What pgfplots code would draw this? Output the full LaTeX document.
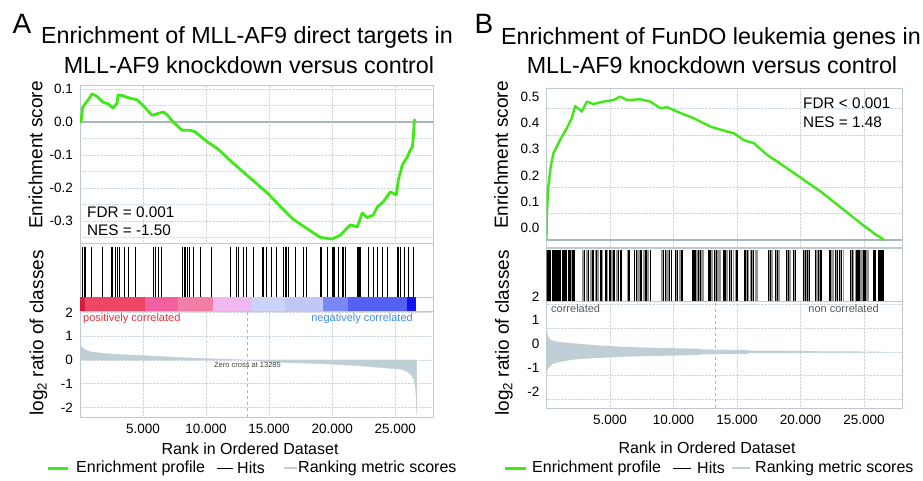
\documentclass[border=0pt]{standalone}
\usepackage{fontspec}
\setmainfont{Liberation Sans}
\usepackage{pgfplots}
\pgfplotsset{compat=1.18}

\definecolor{esgreen}{RGB}{64,232,24}
\definecolor{framec}{RGB}{188,202,210}
\definecolor{gridc}{RGB}{205,214,220}
\definecolor{metricc}{RGB}{192,206,214}
\definecolor{zeroc}{RGB}{168,182,190}
\definecolor{poscol}{RGB}{232,48,56}
\definecolor{negcol}{RGB}{64,140,232}
\definecolor{hitgray}{RGB}{150,150,150}
% colour bar of panel A
\definecolor{cb1}{RGB}{212,30,64}
\definecolor{cb2}{RGB}{236,70,100}
\definecolor{cb3}{RGB}{242,96,160}
\definecolor{cb4}{RGB}{242,126,168}
\definecolor{cb5}{RGB}{240,184,240}
\definecolor{cb6}{RGB}{204,212,250}
\definecolor{cb7}{RGB}{192,200,248}
\definecolor{cb8}{RGB}{120,136,248}
\definecolor{cb9}{RGB}{84,96,240}
\definecolor{cb10}{RGB}{20,20,240}

\newcommand{\fs}[1]{\fontsize{#1}{#1}\selectfont}

\pgfplotsset{
  gsea/.style={
    scale only axis, anchor=south west,
    xmin=0, xmax=28000,
    scaled x ticks=false, scaled y ticks=false,
    axis line style={framec, line width=1pt},
    major tick length=0pt, minor tick length=0pt,
    grid style={gridc, densely dotted, line width=0.6pt},
    minor grid style={gridc, densely dotted, line width=0.6pt},
    tick label style={font=\fs{13.5}},
    yticklabel style={xshift=-3.5pt},
    xticklabel style={yshift=-4pt},
  },
  bare/.style={gsea, ticks=none},
}

\begin{document}
\begin{tikzpicture}[x=1pt,y=1pt]
\path[use as bounding box] (0,0) rectangle (923,480);

% ================= PANEL A =================
% enrichment score
\begin{axis}[gsea, at={(80pt,237pt)}, width=353pt, height=157pt,
  ymin=-0.367, ymax=0.109,
  xtick={5000,10000,15000,20000,25000}, xticklabels={,,,,},
  ytick={-0.3,-0.2,-0.1,0,0.1}, yticklabels={-0.3,-0.2,-0.1,0.0,0.1},
  minor ytick={-0.35,-0.25,-0.15,-0.05,0.05},
  xmajorgrids, ymajorgrids, yminorgrids]
\draw[zeroc, line width=1.3pt] (axis cs:0,0) -- (axis cs:28000,0);
\addplot[esgreen, line width=2.8pt, mark=none, line join=round] coordinates {
 (0,0) (79,0.0) (214,0.045) (318,0.05) (794,0.075) (929,0.085) (1326,0.078)
 (1826,0.06) (2223,0.055) (2620,0.042) (2938,0.057) (3017,0.082) (3335,0.08)
 (3970,0.072) (4526,0.067) (5002,0.05) (5717,0.02) (6114,0.025) (6591,0.03)
 (6908,0.022) (7384,0.0) (8099,-0.025) (8734,-0.025) (9131,-0.03) (10084,-0.06)
 (10878,-0.08) (12148,-0.125) (13498,-0.17) (14848,-0.215) (16118,-0.265)
 (16912,-0.295) (18262,-0.33) (19056,-0.35) (20009,-0.355) (20644,-0.343)
 (21438,-0.312) (21994,-0.318) (22391,-0.276) (22788,-0.29) (23264,-0.282)
 (23582,-0.258) (24058,-0.242) (24614,-0.212) (25090,-0.221) (25249,-0.176)
 (25567,-0.13) (25964,-0.106) (26202,-0.085) (26361,-0.076) (26440,-0.048)
 (26520,0.006) (26600,0.0)};
\end{axis}

% hits
\begin{axis}[bare, at={(80pt,183pt)}, width=353pt, height=54pt, ymin=0, ymax=1.07]
\addplot[ycomb, black, line width=0.9pt, mark=none] coordinates {
 (160,1) (318,1) (420,1) (900,1) (1747,1) (2460,1) (2580,1) (2779,1) (2938,1)
 (3100,1) (3494,1) (3812,1) (4390,1) (5800,1) (5960,1) (6220,1) (6480,1)
 (8150,1) (8290,1) (8390,1) (8540,1) (8680,1) (9000,1) (9520,1) (10450,1)
 (11910,1) (12440,1) (12570,1) (12960,1) (13236,1) (13760,1) (14440,1)
 (14520,1) (14824,1) (15165,1) (15618,1) (16141,1) (16260,1) (16400,1)
 (16538,1) (17071,1) (17730,1) (18000,1) (19056,1) (19120,1) (19191,1)
 (19588,1) (20032,1) (20110,1) (20191,1) (20509,1) (20826,1) (20930,1)
 (21041,1) (21970,1) (22050,1) (22130,1) (22232,1) (22891,1) (23288,1)
 (23558,1) (23955,1) (24352,1) (25146,1) (25250,1) (25408,1) (25749,1)
 (26066,1) (26463,1)};
\end{axis}

% colour bar
\begin{axis}[bare, at={(80pt,169pt)}, width=353pt, height=14pt, ymin=0, ymax=1]
\addplot[fill=cb1, draw=none] coordinates {(0,1) (397,1)} \closedcycle;
\addplot[fill=cb2, draw=none] coordinates {(397,1) (5161,1)} \closedcycle;
\addplot[fill=cb3, draw=none] coordinates {(5161,1) (7781,1)} \closedcycle;
\addplot[fill=cb4, draw=none] coordinates {(7781,1) (10560,1)} \closedcycle;
\addplot[fill=cb5, draw=none] coordinates {(10560,1) (13657,1)} \closedcycle;
\addplot[fill=cb6, draw=none] coordinates {(13657,1) (16277,1)} \closedcycle;
\addplot[fill=cb7, draw=none] coordinates {(16277,1) (19294,1)} \closedcycle;
\addplot[fill=cb8, draw=none] coordinates {(19294,1) (21279,1)} \closedcycle;
\addplot[fill=cb9, draw=none] coordinates {(21279,1) (25964,1)} \closedcycle;
\addplot[fill=cb10, draw=none] coordinates {(25964,1) (26678,1)} \closedcycle;
\end{axis}

% ranking metric
\begin{axis}[gsea, at={(80pt,63pt)}, width=353pt, height=106pt,
  ymin=-2.41, ymax=2.07,
  xtick={5000,10000,15000,20000,25000},
  xticklabels={5.000,10.000,15.000,20.000,25.000},
  ytick={-2,-1,0,1,2}, yticklabels={-2,-1,0,1,2},
  xmajorgrids, ymajorgrids]
\draw[zeroc, dashed, line width=0.7pt] (axis cs:13285,-2.41) -- (axis cs:13285,2.07);
\addplot[fill=metricc, draw=metricc, mark=none] coordinates {
 (0,0.75) (60,0.6) (200,0.5) (400,0.44) (640,0.38) (1000,0.33) (2000,0.27)
 (3500,0.22) (5160,0.18) (7000,0.13) (8500,0.09) (10400,0.05) (12000,0.02)
 (13285,0) (14500,-0.06) (15700,-0.1) (17000,-0.12) (18340,-0.14)
 (20000,-0.18) (21500,-0.22) (22800,-0.27) (23660,-0.31) (24600,-0.35)
 (25400,-0.38) (26000,-0.5) (26300,-0.65) (26500,-0.85) (26620,-1.2)
 (26680,-1.7) (26700,-2.3)} \closedcycle;
\node[font=\fs{7.5}, text=black!75] at (axis cs:13285,-0.2) {Zero cross at 13285};
\end{axis}

\node[font=\fs{11}, text=poscol, anchor=west, inner sep=0] at (83,161) {positively correlated};
\node[font=\fs{11}, text=negcol, anchor=east, inner sep=0] at (413,161) {negatively correlated};
\node[font=\fs{15.3}, anchor=west, inner sep=0] at (87,268) {FDR = 0.001};
\node[font=\fs{15.3}, anchor=west, inner sep=0] at (87,250) {NES = -1.50};

\node[font=\fs{28}, inner sep=0] at (22,456) {A};
\node[font=\fs{23.3}, inner sep=0] at (247,443) {Enrichment of MLL-AF9 direct targets in};
\node[font=\fs{23.3}, inner sep=0] at (249,415) {MLL-AF9 knockdown versus control};
\node[font=\fs{19}, rotate=90, inner sep=0] at (35.5,325) {Enrichment score};
\node[font=\fs{19}, rotate=90, inner sep=0] at (38.5,147) {log\textsubscript{2} ratio of classes};
\node[font=\fs{16}, inner sep=0] at (250,31) {Rank in Ordered Dataset};

% ================= PANEL B =================
\begin{axis}[gsea, at={(546.5pt,232pt)}, width=355.5pt, height=159pt,
  ymin=-0.03, ymax=0.574,
  xtick={5000,10000,15000,20000,25000}, xticklabels={,,,,},
  ytick={0,0.1,0.2,0.3,0.4,0.5}, yticklabels={0.0,0.1,0.2,0.3,0.4,0.5},
  yticklabel style={yshift=12pt},
  xmajorgrids, ymajorgrids]
\draw[zeroc, line width=1.3pt] (axis cs:0,0) -- (axis cs:28000,0);
\addplot[esgreen, line width=2.4pt, mark=none, line join=round] coordinates {
 (0,0) (16,0.089) (142,0.203) (332,0.279) (537,0.329) (1067,0.380)
 (1596,0.425) (1991,0.463) (2252,0.509) (2512,0.500) (2781,0.488)
 (3176,0.526) (3697,0.517) (4487,0.526) (5277,0.532) (5807,0.545)
 (6336,0.532) (7387,0.535) (8177,0.526) (8967,0.501) (9496,0.505)
 (10286,0.488) (11597,0.463) (12917,0.431) (14236,0.412) (14757,0.406)
 (15547,0.380) (16337,0.368) (17396,0.323) (18976,0.272) (20288,0.228)
 (21607,0.184) (23447,0.114) (24767,0.063) (25817,0.025) (26608,0)};
\end{axis}

\begin{axis}[bare, at={(546.5pt,179pt)}, width=355.5pt, height=53pt, ymin=0, ymax=1.04]
\addplot[ycomb, hitgray, line width=1.1pt, mark=none] coordinates {
 (1975,1) (2805,1) (3121,1) (3437,1) (3832,1) (4108,1) (4820,1) (5151,1)
 (5491,1) (6360,1) (7229,1) (7624,1) (8019,1) (9085,1) (9520,1) (10468,1)
 (11850,1) (12245,1) (12364,1) (13035,1) (13549,1) (13667,1) (14220,1)
 (14734,1) (14852,1) (15919,1) (16037,1) (16472,1) (16630,1) (17815,1)
 (18368,1) (19237,1) (20422,1) (21330,1) (22476,1) (22634,1) (23424,1)
 (24214,1) (24332,1) (24727,1) (24846,1) (25241,1) (25359,1)
 (2900,1) (3200,1) (3520,1) (3880,1) (4050,1) (4420,1) (4760,1) (5000,1)
 (5200,1) (5560,1) (6420,1) (7150,1) (7300,1) (7700,1) (7950,1) (9160,1)
 (9440,1) (9600,1) (10250,1) (10550,1) (10700,1) (11550,1) (11680,1)
 (12050,1) (12830,1) (12950,1) (13300,1) (13470,1) (14040,1) (14160,1)
 (14480,1) (15000,1) (15620,1) (15740,1) (16100,1) (16210,1) (16550,1)
 (17560,1) (17700,1) (18130,1) (18290,1) (18980,1) (19120,1) (19530,1)
 (20320,1) (20500,1) (20660,1) (21270,1) (21390,1) (21510,1) (22320,1)
 (22550,1) (22850,1) (23180,1) (24040,1) (24150,1) (24530,1) (24660,1)
 (25060,1) (25180,1) (25810,1) (26250,1) (26370,1) (26470,1)};
\addplot[ycomb, black, line width=1.1pt, mark=none] coordinates {
 (0,1) (79,1) (158,1) (237,1) (316,1) (514,1) (593,1) (672,1) (751,1)
 (830,1) (909,1) (988,1) (1067,1) (1225,1) (1304,1) (1383,1) (1462,1)
 (1541,1) (1699,1) (1778,1) (1857,1) (2054,1) (2133,1) (2212,1) (3002,1)
 (3279,1) (3595,1) (3713,1) (3966,1) (4227,1) (4306,1) (4622,1) (4701,1)
 (4938,1) (5056,1) (5254,1) (5372,1) (5649,1) (5807,1) (5925,1) (6478,1)
 (6557,1) (6952,1) (7071,1) (7387,1) (7505,1) (7782,1) (7900,1) (8177,1)
 (9243,1) (9362,1) (9717,1) (9836,1) (10191,1) (10310,1) (10626,1)
 (10744,1) (11495,1) (11613,1) (11732,1) (11969,1) (12127,1) (12782,1)
 (12877,1) (13233,1) (13391,1) (13983,1) (14102,1) (14418,1) (14536,1)
 (14931,1) (15050,1) (15563,1) (15682,1) (15800,1) (16156,1) (16274,1)
 (17499,1) (17617,1) (18052,1) (18210,1) (18921,1) (19040,1) (19474,1)
 (19592,1) (20264,1) (20382,1) (20580,1) (20738,1) (21212,1) (21449,1)
 (21567,1) (21686,1) (22278,1) (22357,1) (22792,1) (22910,1) (23108,1)
 (23266,1) (23977,1) (24095,1) (24451,1) (24609,1) (25004,1) (25122,1)
 (25754,1) (25873,1) (26189,1) (26307,1) (26426,1) (26505,1)};
\end{axis}

\begin{axis}[gsea, at={(546.5pt,72pt)}, width=355.5pt, height=107pt,
  ymin=-2.36, ymax=2.15,
  xtick={5000,10000,15000,20000,25000},
  xticklabels={5.000,10.000,15.000,20.000,25.000},
  ytick={-2,-1,0,1,2}, yticklabels={-2,-1,0,1,2},
  yticklabel style={yshift=8pt},
  xmajorgrids, ymajorgrids]
\draw[zeroc, dashed, line width=0.7pt] (axis cs:13300,-2.36) -- (axis cs:13300,2.15);
\addplot[fill=metricc, draw=none, mark=none] coordinates {
 (0,1.0) (40,0.85) (100,0.72) (200,0.6) (280,0.54) (500,0.48) (1000,0.42)
 (2100,0.37) (4000,0.28) (6040,0.22) (9000,0.17) (12100,0.14) (12130,0.11)
 (15300,0.09) (15920,0.08) (15920,0.06) (20030,0.05) (20030,0.035)
 (24640,0.025) (24640,0.015) (26700,0.01)} \closedcycle;
\addplot[fill=metricc, draw=none, mark=none] coordinates {
 (0,-1.0) (40,-0.85) (100,-0.72) (200,-0.65) (280,-0.6) (500,-0.5)
 (1000,-0.42) (2100,-0.32) (4000,-0.25) (6040,-0.2) (9000,-0.16)
 (12100,-0.13) (12130,-0.1) (15920,-0.08) (15920,-0.05) (20030,-0.04)
 (20030,-0.03) (24640,-0.02) (24640,-0.01) (26700,-0.01)} \closedcycle;
\end{axis}

\node[font=\fs{11}, text=black!65, anchor=west, inner sep=0] at (551,171) {correlated};
\node[font=\fs{11}, text=black!65, anchor=east, inner sep=0] at (879,171) {non correlated};
\node[font=\fs{15.3}, anchor=west, inner sep=0] at (803,377) {FDR < 0.001};
\node[font=\fs{15.3}, anchor=west, inner sep=0] at (803,358) {NES = 1.48};

\node[font=\fs{28}, inner sep=0] at (484,456) {B};
\node[font=\fs{23.3}, inner sep=0] at (711,442) {Enrichment of FunDO leukemia genes in};
\node[font=\fs{23.3}, inner sep=0] at (712,415) {MLL-AF9 knockdown versus control};
\node[font=\fs{19}, rotate=90, inner sep=0] at (501,325) {Enrichment score};
\node[font=\fs{19}, rotate=90, inner sep=0] at (504,147) {log\textsubscript{2} ratio of classes};
\node[font=\fs{16}, inner sep=0] at (707,32) {Rank in Ordered Dataset};

% ================= LEGENDS =================
\draw[esgreen, line width=3pt] (48,12) -- (68,12);
\node[font=\fs{16}, anchor=west, inner sep=0] at (76,12) {Enrichment profile};
\draw[black, line width=0.9pt] (217,12) -- (233,12);
\node[font=\fs{16}, anchor=west, inner sep=0] at (237,12) {Hits};
\draw[metricc, line width=1.5pt] (284,12) -- (297,12);
\node[font=\fs{16}, anchor=west, inner sep=0] at (298,12) {Ranking metric scores};

\draw[esgreen, line width=3pt] (505,12) -- (526,12);
\node[font=\fs{16}, anchor=west, inner sep=0] at (532,12) {Enrichment profile};
\draw[black, line width=0.9pt] (673,12) -- (691,12);
\node[font=\fs{16}, anchor=west, inner sep=0] at (697,12) {Hits};
\draw[metricc, line width=1.5pt] (732,12) -- (750,12);
\node[font=\fs{16}, anchor=west, inner sep=0] at (755,12) {Ranking metric scores};
\end{tikzpicture}
\end{document}
